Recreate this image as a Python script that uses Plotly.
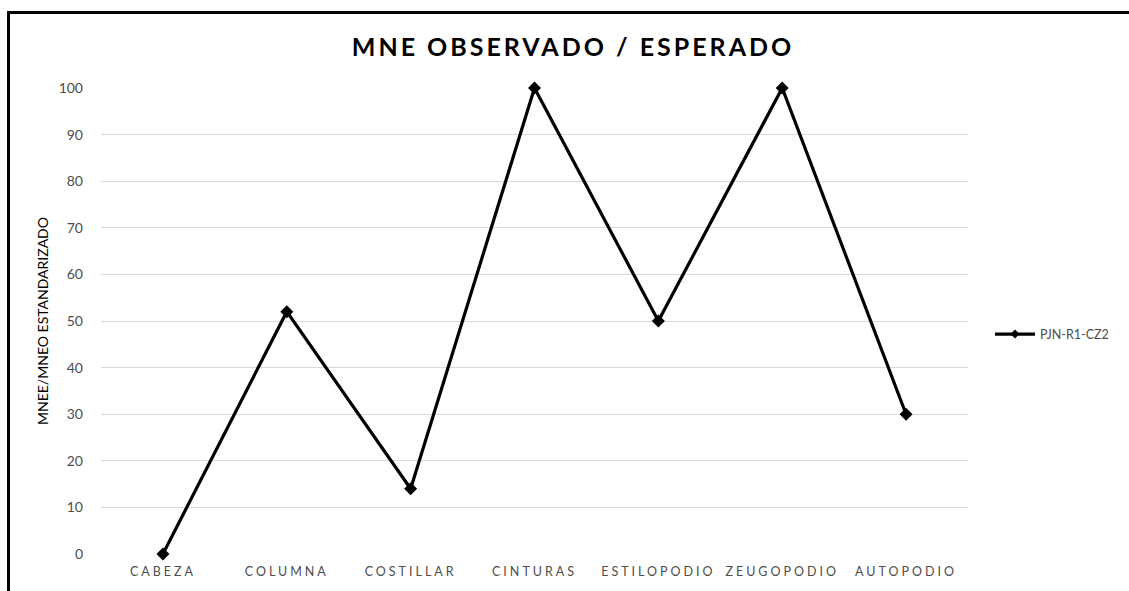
import plotly.graph_objects as go

categories = ["CABEZA", "COLUMNA", "COSTILLAR", "CINTURAS", "ESTILOPODIO", "ZEUGOPODIO", "AUTOPODIO"]
values = [0, 52, 14, 100, 50, 100, 30]
y_ticks = [0, 10, 20, 30, 40, 50, 60, 70, 80, 90, 100]
series_name = "PJN-R1-CZ2"
title_text = "MNE OBSERVADO / ESPERADO"
y_title = "MNEE/MNEO ESTANDARIZADO"

W, H = 1129, 591
ML, MR, MT, MB = 101, 161, 88, 34
PW, PH = W - ML - MR, H - MT - MB


def px_x(x):
    return (x - ML) / PW


def px_y(y):
    return (H - MB - y) / PH


FONT = "Lato, 'Open Sans', sans-serif"
GREY = "#4d4d4d"

fig = go.Figure()
fig.add_trace(go.Scatter(
    x=list(range(len(categories))),
    y=values,
    mode="lines+markers",
    name=series_name,
    line=dict(color="black", width=3.2),
    marker=dict(symbol="diamond", size=10, color="black"),
    cliponaxis=False,
    showlegend=False,
))
# legend entry with a smaller symbol
fig.add_trace(go.Scatter(
    x=[None], y=[None],
    mode="lines+markers",
    name=series_name,
    line=dict(color="black", width=3.2),
    marker=dict(symbol="diamond", size=7, color="black"),
    showlegend=True,
))

spaced = [f'<span style="letter-spacing:3px">{c}</span>' for c in categories]

fig.update_layout(
    width=W, height=H,
    margin=dict(l=ML, r=MR, t=MT, b=MB),
    paper_bgcolor="white", plot_bgcolor="white",
    font=dict(family=FONT, color=GREY, size=13),
    title=dict(
        text=f'<span style="letter-spacing:3px"><b>{title_text}</b></span>',
        x=px_x(573), xref="paper", xanchor="center",
        y=(H - 47) / H, yref="container", yanchor="middle",
        font=dict(size=25, color="black", family=FONT),
    ),
    xaxis=dict(
        range=[-0.5, len(categories) - 0.5],
        tickmode="array", tickvals=list(range(len(categories))), ticktext=spaced,
        showgrid=False, zeroline=False, showline=False, ticks="",
        tickfont=dict(size=12.5, color=GREY), ticklabelstandoff=8,
    ),
    yaxis=dict(
        range=[0, 100], tickmode="array", tickvals=y_ticks,
        showgrid=True, gridcolor="#d9d9d9", gridwidth=1.3,
        zeroline=False, showline=False, ticks="",
        tickfont=dict(size=14, color=GREY), ticklabelstandoff=17,
        title=dict(text=y_title, font=dict(size=14, color="black"), standoff=6),
    ),
    legend=dict(
        x=px_x(990), xanchor="left", y=px_y(336), yanchor="middle",
        font=dict(size=12.5, color=GREY), itemwidth=40,
        bgcolor="rgba(0,0,0,0)",
    ),
    showlegend=True,
)

# outer chart frame (extends past right and bottom edges)
fig.add_shape(type="rect", xref="paper", yref="paper",
              x0=px_x(8.5), x1=px_x(1135), y0=px_y(12), y1=px_y(600),
              line=dict(color="black", width=3), fillcolor="rgba(0,0,0,0)", layer="above")

fig.write_html("out.html")
